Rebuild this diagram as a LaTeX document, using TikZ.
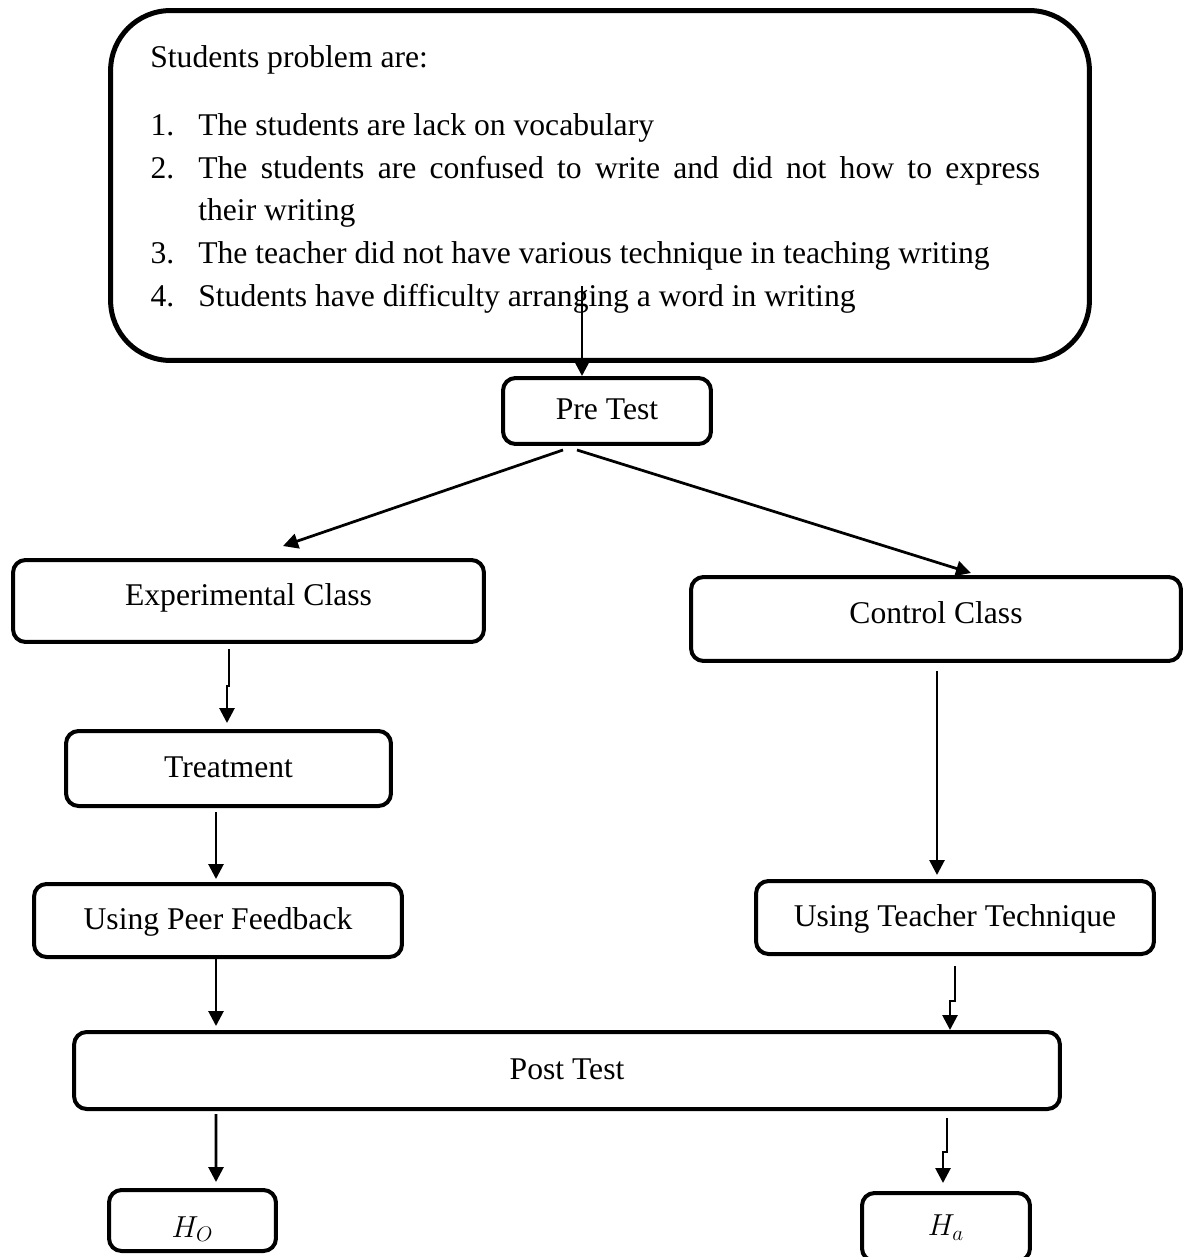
\documentclass[tikz,border=0pt]{standalone}
\usepackage{fontspec}
\setmainfont{Liberation Serif}
\usetikzlibrary{arrows.meta,calc}
\tikzstyle{arrow} = [line width=0.055cm, -{Triangle[length=0.3cm,width=0.3cm]}]
\tikzstyle{stage} = [draw, line width=0.08cm, rounded corners=0.25cm, font=\fontsize{18}{22}\selectfont, text height=0.44cm, text depth=0.1cm]

\begin{document}
\begin{tikzpicture}[x=0.02cm, y=-0.02cm]
		\useasboundingbox (0,0) rectangle (1185,1257);

		\node (problems) [draw, line width=0.1cm, rounded corners=1.2cm, minimum width=19.58cm, minimum height=7cm] at (600,185.5) {};
		\node (problist) [anchor=north west, inner sep=0pt, text width=17.8cm, align=justify, font=\fontsize{18}{24.4}\selectfont] at (150,45) {%
			Students problem are:\par\vspace{0.5cm}
			\begin{list}{\arabic{enumi}.}{\usecounter{enumi}\setlength{\leftmargin}{0.96cm}\setlength{\labelwidth}{0.48cm}\setlength{\labelsep}{0.48cm}\setlength{\itemsep}{0pt}\setlength{\topsep}{0pt}\setlength{\parsep}{0pt}\setlength{\partopsep}{0pt}}
				\item The students are lack on vocabulary
				\item The students are confused to write and did not how to express\linebreak their writing
				\item The teacher did not have various technique in teaching writing
				\item Students have difficulty arranging a word in writing
			\end{list}};
		\coordinate (probtail) at (582,286);

		\node (pre) [stage, minimum width=4.16cm, minimum height=1.32cm] at (607,411) {Pre Test};
		\node (exp) [stage, text depth=0.26cm, minimum width=9.42cm, minimum height=1.64cm] at (248.5,601) {Experimental Class};
		\node (ctrl) [stage, text depth=0.26cm, minimum width=9.8cm, minimum height=1.68cm] at (936,619) {Control Class};
		\node (treat) [stage, minimum width=6.5cm, minimum height=1.5cm] at (228.5,768.5) {Treatment};
		\node (peer) [stage, minimum width=7.36cm, minimum height=1.46cm] at (218,920.5) {Using Peer Feedback};
		\node (teach) [stage, minimum width=7.96cm, minimum height=1.46cm] at (955,917.5) {Using Teacher Technique};
		\node (post) [stage, minimum width=19.72cm, minimum height=1.54cm] at (567,1070.5) {Post Test};
		\node (ho) [stage, text height=0.7cm, text depth=0.04cm, minimum width=3.34cm, minimum height=1.22cm] at (192.5,1220.5) {$H_O$};
		\node (ha) [stage, minimum width=3.36cm, minimum height=1.36cm] at (946,1227) {$H_a$};

		\draw [arrow] (probtail) -- (probtail |- pre.north);
		\draw [arrow] ($(pre.south)+(-44,4)$) -- ($(exp.north)+(34.5,-12)$);
		\draw [arrow] ($(pre.south)+(-30,4)$) -- ($(ctrl.north)+(35,-2)$);
		\draw [arrow] ($(exp.south)+(-19.5,5)$) -- ++(0,37) -- ++(-2,0) -- ($(treat.north)+(-1.5,-6)$);
		\draw [arrow] ($(treat.south)+(-12.5,4)$) -- ($(peer.north)+(-2,-3)$);
		\draw [arrow] ($(ctrl.south)+(1,8)$) -- ($(teach.north)+(-18,-4)$);
		\draw [arrow] ($(peer.south)+(-2,0)$) -- ($(post.north)+(-351,-4)$);
		\draw [arrow] ($(teach.south)+(0,10)$) -- ++(0,35) -- ++(-5,0) -- ($(post.north)+(383,0)$);
		\draw [arrow] ($(post.south)+(-351,3)$) -- ($(ho.north)+(23.5,-6)$);
		\draw [arrow] ($(post.south)+(380,7)$) -- ++(0,34) -- ++(-4,0) -- ($(ha.north)+(-3,-8)$);
	\end{tikzpicture}
\end{document}
